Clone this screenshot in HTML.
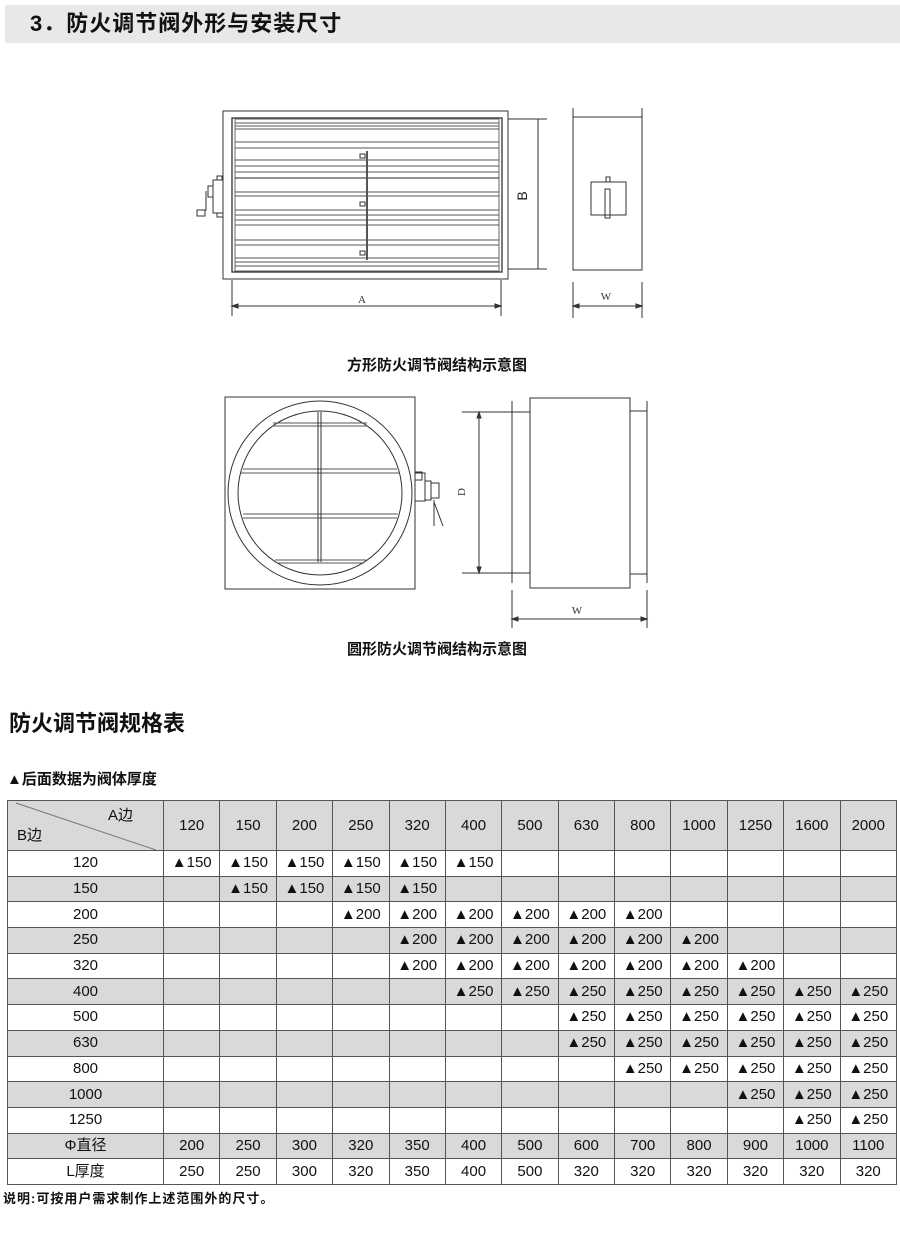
<!DOCTYPE html>
<html><head><meta charset="utf-8"><style>
body{margin:0;width:900px;height:1255px;background:#fff;position:relative;overflow:hidden;font-family:"Liberation Sans","Noto Sans CJK SC",sans-serif;color:#111}
.abs{position:absolute;white-space:nowrap}
table{position:absolute;left:7px;top:800px;width:890px;border-collapse:collapse;table-layout:fixed;font-size:15px}
td{border:1px solid #555;text-align:center;padding:0;height:24.7px;line-height:24px;overflow:hidden;white-space:nowrap}
tr.g td{background:#d9d9d9}
tr.h td{height:49px;background:#d9d9d9}
</style></head><body>
<div class="abs" style="left:5px;top:5px;width:895px;height:38px;background:#e8e8e8"></div>
<div class="abs" style="left:30px;top:9px;font-size:22px;line-height:30px;letter-spacing:1px;font-weight:bold">3．防火调节阀外形与安装尺寸</div>

<svg class="abs" style="left:0;top:0" width="900" height="700" viewBox="0 0 900 700" fill="none" stroke="#333" stroke-width="1">
<rect x="223" y="111" width="285" height="168"/>
<rect x="232" y="118" width="270" height="154" stroke-width="1.3"/>
<rect x="235" y="119" width="264" height="152" stroke="#666"/>
<g stroke="#555">
<line x1="235" y1="123" x2="499" y2="123"/><line x1="235" y1="126" x2="499" y2="126"/><line x1="235" y1="129" x2="499" y2="129"/>
<line x1="235" y1="142" x2="499" y2="142"/><line x1="235" y1="148" x2="499" y2="148"/>
<line x1="235" y1="160" x2="499" y2="160"/><line x1="235" y1="166" x2="499" y2="166"/><line x1="235" y1="172" x2="499" y2="172"/>
<line x1="235" y1="178" x2="499" y2="178" stroke="#222"/>
<line x1="235" y1="192" x2="499" y2="192"/><line x1="235" y1="196" x2="499" y2="196"/>
<line x1="235" y1="210" x2="499" y2="210"/><line x1="235" y1="215" x2="499" y2="215"/><line x1="235" y1="220" x2="499" y2="220"/>
<line x1="235" y1="225" x2="499" y2="225"/>
<line x1="235" y1="240" x2="499" y2="240"/><line x1="235" y1="245" x2="499" y2="245"/>
<line x1="235" y1="258" x2="499" y2="258"/><line x1="235" y1="262" x2="499" y2="262"/><line x1="235" y1="266" x2="499" y2="266"/>
</g>
<line x1="367" y1="151" x2="367" y2="260" stroke-width="2" stroke="#555"/>
<rect x="360" y="154" width="5" height="4"/><rect x="360" y="202" width="5" height="4"/><rect x="360" y="251" width="5" height="4"/>
<rect x="213" y="180" width="10" height="33"/><rect x="217" y="176" width="5" height="4"/><rect x="217" y="213" width="6" height="4"/>
<rect x="208" y="186" width="5" height="11"/><polyline points="206,191 206,210 203,210"/><rect x="197" y="210" width="8" height="6"/>
<line x1="508" y1="119" x2="547" y2="119"/><line x1="508" y1="269" x2="547" y2="269"/>
<line x1="538" y1="119" x2="538" y2="269"/>
<text x="527" y="196" transform="rotate(-90 527 196)" font-family="Liberation Sans" font-size="14" fill="#222" stroke="none" text-anchor="middle">B</text>
<line x1="232" y1="280" x2="232" y2="316"/><line x1="501" y1="280" x2="501" y2="316"/>
<line x1="232" y1="306" x2="501" y2="306"/>
<path d="M232 306l6-2v4zM501 306l-6-2v4z" fill="#333"/>
<text x="362" y="303" font-family="Liberation Serif" font-size="11" fill="#333" stroke="none" text-anchor="middle">A</text>
<line x1="573" y1="108" x2="573" y2="270"/><line x1="642" y1="108" x2="642" y2="270"/>
<rect x="573" y="117" width="69" height="153"/>
<rect x="591" y="182" width="35" height="33"/><rect x="605" y="189" width="5" height="29"/><rect x="606" y="177" width="4" height="5"/>
<line x1="573" y1="282" x2="573" y2="318"/><line x1="642" y1="282" x2="642" y2="318"/>
<line x1="573" y1="306" x2="642" y2="306"/>
<path d="M573 306l6-2v4zM642 306l-6-2v4z" fill="#333"/>
<text x="606" y="300" font-family="Liberation Serif" font-size="11" fill="#333" stroke="none" text-anchor="middle">W</text>

<rect x="225" y="397" width="190" height="192"/>
<circle cx="320" cy="493" r="92"/><circle cx="320" cy="493" r="82"/>
<g stroke="#555">
<line x1="273" y1="423" x2="367" y2="423"/><line x1="272" y1="426" x2="367" y2="426"/>
<line x1="243" y1="469" x2="397" y2="469"/><line x1="241" y1="473" x2="399" y2="473"/>
<line x1="243" y1="514" x2="398" y2="514"/><line x1="243" y1="518" x2="397" y2="518"/>
<line x1="275" y1="560" x2="366" y2="560"/><line x1="277" y1="563" x2="364" y2="563"/>
</g>
<line x1="318" y1="412" x2="318" y2="562"/><line x1="321" y1="412" x2="321" y2="562"/>
<rect x="415" y="473" width="10" height="28"/><rect x="415" y="472" width="7" height="8"/>
<rect x="425" y="481" width="6" height="19"/><rect x="431" y="483" width="8" height="15"/>
<line x1="434" y1="500" x2="434" y2="526"/><line x1="434" y1="502" x2="443" y2="526"/>
<line x1="512" y1="401" x2="512" y2="583"/><line x1="647" y1="401" x2="647" y2="583"/>
<rect x="512" y="412" width="18" height="161"/>
<rect x="530" y="398" width="100" height="190"/>
<rect x="630" y="411" width="17" height="163"/>
<line x1="462" y1="412" x2="512" y2="412"/><line x1="462" y1="573" x2="512" y2="573"/>
<line x1="479" y1="412" x2="479" y2="573"/>
<path d="M479 412l-2 6h4zM479 573l-2-6h4z" fill="#333"/>
<text x="465" y="492" transform="rotate(-90 465 492)" font-family="Liberation Serif" font-size="11" fill="#333" stroke="none" text-anchor="middle">D</text>
<line x1="512" y1="590" x2="512" y2="628"/><line x1="647" y1="590" x2="647" y2="628"/>
<line x1="512" y1="619" x2="647" y2="619"/>
<path d="M512 619l6-2v4zM647 619l-6-2v4z" fill="#333"/>
<text x="577" y="614" font-family="Liberation Serif" font-size="11" fill="#333" stroke="none" text-anchor="middle">W</text>
</svg>

<div class="abs" style="left:0;width:874px;text-align:center;top:356px;font-size:15px;line-height:20px;font-weight:bold">方形防火调节阀结构示意图</div>
<div class="abs" style="left:0;width:874px;text-align:center;top:640px;font-size:15px;line-height:20px;font-weight:bold">圆形防火调节阀结构示意图</div>
<div class="abs" style="left:9px;top:709px;font-size:22px;line-height:30px;font-weight:bold">防火调节阀规格表</div>
<div class="abs" style="left:7px;top:770px;font-size:15px;line-height:20px;font-weight:bold">▲后面数据为阀体厚度</div>

<table>
<colgroup><col style="width:156px"><col span="13"></colgroup>
<tr class="h"><td style="position:relative;text-align:left;line-height:18px"><svg style="position:absolute;left:0;top:0" width="156" height="49"><line x1="8" y1="2" x2="148" y2="49" stroke="#777"/></svg><span style="position:absolute;left:100px;top:6px">A边</span><span style="position:absolute;left:9px;top:26px">B边</span></td><td>120</td><td>150</td><td>200</td><td>250</td><td>320</td><td>400</td><td>500</td><td>630</td><td>800</td><td>1000</td><td>1250</td><td>1600</td><td>2000</td></tr>
<tr><td>120</td><td>▲150</td><td>▲150</td><td>▲150</td><td>▲150</td><td>▲150</td><td>▲150</td><td></td><td></td><td></td><td></td><td></td><td></td><td></td></tr>
<tr class="g"><td>150</td><td></td><td>▲150</td><td>▲150</td><td>▲150</td><td>▲150</td><td></td><td></td><td></td><td></td><td></td><td></td><td></td><td></td></tr>
<tr><td>200</td><td></td><td></td><td></td><td>▲200</td><td>▲200</td><td>▲200</td><td>▲200</td><td>▲200</td><td>▲200</td><td></td><td></td><td></td><td></td></tr>
<tr class="g"><td>250</td><td></td><td></td><td></td><td></td><td>▲200</td><td>▲200</td><td>▲200</td><td>▲200</td><td>▲200</td><td>▲200</td><td></td><td></td><td></td></tr>
<tr><td>320</td><td></td><td></td><td></td><td></td><td>▲200</td><td>▲200</td><td>▲200</td><td>▲200</td><td>▲200</td><td>▲200</td><td>▲200</td><td></td><td></td></tr>
<tr class="g"><td>400</td><td></td><td></td><td></td><td></td><td></td><td>▲250</td><td>▲250</td><td>▲250</td><td>▲250</td><td>▲250</td><td>▲250</td><td>▲250</td><td>▲250</td></tr>
<tr><td>500</td><td></td><td></td><td></td><td></td><td></td><td></td><td></td><td>▲250</td><td>▲250</td><td>▲250</td><td>▲250</td><td>▲250</td><td>▲250</td></tr>
<tr class="g"><td>630</td><td></td><td></td><td></td><td></td><td></td><td></td><td></td><td>▲250</td><td>▲250</td><td>▲250</td><td>▲250</td><td>▲250</td><td>▲250</td></tr>
<tr><td>800</td><td></td><td></td><td></td><td></td><td></td><td></td><td></td><td></td><td>▲250</td><td>▲250</td><td>▲250</td><td>▲250</td><td>▲250</td></tr>
<tr class="g"><td>1000</td><td></td><td></td><td></td><td></td><td></td><td></td><td></td><td></td><td></td><td></td><td>▲250</td><td>▲250</td><td>▲250</td></tr>
<tr><td>1250</td><td></td><td></td><td></td><td></td><td></td><td></td><td></td><td></td><td></td><td></td><td></td><td>▲250</td><td>▲250</td></tr>
<tr class="g"><td>Φ直径</td><td>200</td><td>250</td><td>300</td><td>320</td><td>350</td><td>400</td><td>500</td><td>600</td><td>700</td><td>800</td><td>900</td><td>1000</td><td>1100</td></tr>
<tr><td>L厚度</td><td>250</td><td>250</td><td>300</td><td>320</td><td>350</td><td>400</td><td>500</td><td>320</td><td>320</td><td>320</td><td>320</td><td>320</td><td>320</td></tr>
</table>
<div class="abs" style="left:3px;top:1190px;font-size:13px;line-height:18px;letter-spacing:1px;font-weight:bold">说明:可按用户需求制作上述范围外的尺寸。</div>
</body></html>
